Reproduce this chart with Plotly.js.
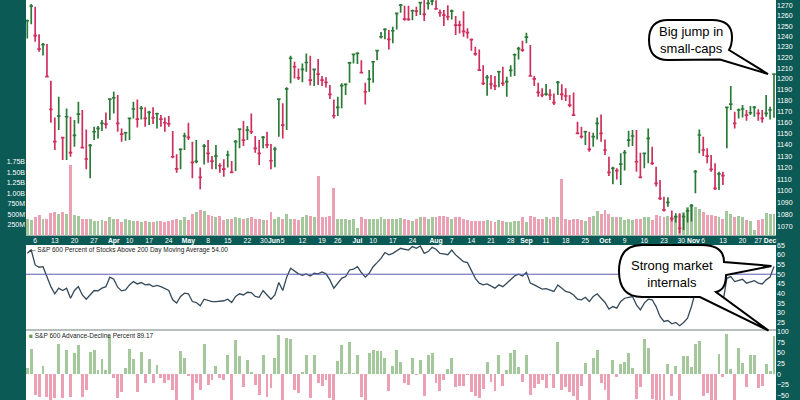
<!DOCTYPE html>
<html><head><meta charset="utf-8">
<script src="https://cdn.plot.ly/plotly-3.0.1.min.js"></script>
<style>html,body{margin:0;padding:0;background:#0c5a55;}#chart{width:800px;height:400px;}</style>
</head><body><div id="chart"></div>
<script>
// ---------------- DATA (daily bars, 2 Mar - 1 Dec) ----------------
const priorClose = 1250;
const high = [
1256.6,1271.6,1269.0,1242.3,1233.8,1232.9,1198.3,1164.6,1183.5,1147.3,
1172.7,1165.2,1162.2,1178.9,1171.3,1153.8,1140.8,1156.2,1156.8,1162.2,
1169.1,1181.9,1188.0,1185.0,1154.7,1151.7,1164.6,1178.9,1181.0,1174.9,
1173.7,1170.7,1173.7,1168.8,1166.7,1164.6,1165.8,1152.3,1131.7,1137.0,
1150.8,1159.8,1142.9,1144.3,1120.1,1140.8,1144.3,1130.2,1139.9,1123.8,
1127.3,1134.9,1125.8,1144.3,1154.7,1161.3,1156.8,1168.2,1147.9,1144.3,
1147.9,1151.7,1140.8,1138.4,1181.9,1177.4,1192.1,1221.6,1216.0,1209.7,
1214.4,1223.9,1221.6,1209.7,1218.7,1202.6,1201.4,1194.3,1181.0,1183.5,
1195.8,1195.8,1216.0,1223.9,1224.9,1217.5,1196.4,1208.2,1216.6,1227.1,
1244.5,1247.9,1246.3,1249.5,1263.4,1271.6,1270.0,1270.0,1266.4,1269.0,
1274.0,1275.6,1276.0,1278.0,1275.5,1266.4,1265.7,1270.6,1266.4,1259.9,
1255.3,1264.7,1247.9,1238.2,1230.3,1227.7,1212.8,1203.5,1203.5,1202.6,
1207.6,1211.3,1202.0,1212.8,1223.9,1230.3,1236.0,1243.7,1231.8,1202.6,
1196.4,1191.2,1195.2,1190.3,1186.5,1198.0,1194.9,1191.2,1185.0,1187.4,
1160.7,1156.2,1152.6,1151.7,1150.8,1164.6,1167.3,1144.9,1129.6,1120.9,
1119.5,1132.6,1135.5,1152.6,1153.3,1153.3,1133.2,1133.2,1154.7,1138.4,
1120.9,1109.4,1095.1,1094.6,1083.4,1081.2,1081.2,1081.2,1085.3,1088.9,
1118.0,1153.8,1147.3,1137.0,1131.1,1123.8,1116.6,1116.6,1174.3,1193.4,
1169.7,1172.7,1175.8,1171.3,1174.9,1174.9,1171.9,1171.3,1185.0,1174.3,
1205.1];
const low = [
1238.2,1252.0,1235.1,1225.5,1222.0,1201.4,1159.8,1135.5,1153.3,1126.7,
1126.7,1129.6,1138.4,1159.2,1137.0,1118.6,1110.8,1144.3,1145.8,1152.3,
1154.7,1162.2,1168.2,1151.7,1142.9,1143.8,1144.3,1163.7,1155.6,1162.8,
1156.2,1157.7,1158.6,1154.7,1156.2,1151.7,1156.2,1128.2,1115.7,1118.6,
1135.5,1144.3,1110.8,1123.8,1101.4,1122.9,1124.4,1118.6,1118.6,1115.7,
1112.2,1120.1,1115.7,1117.2,1137.0,1139.0,1144.3,1149.6,1133.2,1122.3,
1137.0,1137.0,1118.6,1120.4,1147.3,1145.8,1153.3,1195.8,1200.3,1198.8,
1196.7,1206.6,1193.7,1193.4,1194.3,1193.4,1191.9,1181.3,1163.7,1165.8,
1172.8,1185.0,1196.4,1214.4,1213.8,1205.1,1176.4,1188.0,1196.4,1217.5,
1238.2,1237.3,1227.7,1233.5,1246.9,1263.1,1255.3,1255.3,1255.9,1259.9,
1260.8,1255.0,1266.4,1270.5,1266.0,1259.2,1250.1,1255.9,1256.6,1241.5,
1243.0,1239.8,1238.2,1226.5,1221.6,1207.3,1194.3,1184.4,1190.3,1189.7,
1192.1,1193.4,1183.5,1202.0,1202.6,1218.2,1225.5,1233.5,1202.0,1193.4,
1183.5,1182.9,1184.4,1180.4,1175.8,1185.0,1180.4,1179.5,1173.7,1166.7,
1149.6,1145.8,1139.9,1134.0,1138.4,1144.9,1142.9,1131.1,1112.9,1105.7,
1109.9,1105.1,1117.5,1138.4,1139.0,1116.6,1110.8,1119.5,1123.8,1122.3,
1103.7,1092.3,1082.5,1086.7,1074.3,1073.5,1064.5,1067.2,1073.5,1074.3,
1098.0,1132.6,1130.2,1123.8,1116.6,1100.8,1100.8,1105.1,1137.0,1171.3,
1154.7,1163.7,1164.6,1161.6,1166.7,1165.2,1161.6,1159.8,1165.2,1162.8,
1164.3];
const close = [
1255.3,1269.7,1240.8,1228.0,1232.2,1202.0,1171.9,1142.9,1165.8,1146.5,
1165.2,1133.2,1148.5,1167.6,1137.6,1127.6,1139.6,1151.7,1154.7,1159.2,
1158.6,1181.3,1182.5,1159.2,1149.6,1150.8,1163.7,1172.2,1163.1,1172.8,
1163.7,1169.1,1164.3,1167.9,1163.1,1159.8,1158.9,1129.6,1119.0,1136.1,
1147.9,1146.7,1124.7,1125.5,1111.7,1139.0,1132.6,1125.8,1130.2,1121.7,
1118.8,1131.1,1116.0,1142.9,1154.1,1144.3,1153.2,1151.7,1137.0,1132.6,
1146.7,1140.0,1126.1,1136.4,1181.3,1157.7,1190.6,1219.3,1211.3,1201.0,
1208.8,1215.3,1198.8,1208.8,1204.4,1198.8,1196.7,1185.6,1166.1,1173.7,
1193.7,1194.9,1215.0,1222.9,1223.9,1205.7,1188.0,1199.8,1216.0,1226.5,
1239.8,1246.9,1237.3,1245.6,1262.5,1270.6,1256.9,1256.6,1265.1,1264.7,
1273.0,1261.5,1272.3,1274.5,1267.0,1263.1,1260.8,1259.2,1264.7,1251.1,
1251.0,1245.0,1243.7,1237.0,1223.5,1208.2,1195.8,1201.4,1195.2,1193.4,
1206.6,1195.8,1197.4,1207.9,1222.6,1228.4,1227.1,1239.5,1202.6,1200.0,
1187.4,1185.0,1185.9,1185.0,1178.0,1196.7,1185.6,1184.1,1175.8,1166.7,
1150.2,1147.3,1151.7,1136.1,1147.3,1159.2,1150.2,1135.5,1116.0,1119.5,
1117.5,1123.2,1133.2,1144.3,1147.9,1125.2,1111.7,1132.6,1145.8,1123.8,
1106.5,1093.7,1083.9,1090.3,1076.7,1078.3,1068.6,1078.3,1083.1,1087.3,
1116.6,1148.8,1135.5,1130.2,1118.6,1102.2,1114.6,1113.1,1173.7,1176.7,
1159.2,1171.3,1172.2,1166.7,1168.8,1173.7,1168.2,1163.7,1168.2,1171.3,
1204.4];
// volume in millions of shares
const volumeM = [
400,370,440,480,400,400,540,560,510,560,
510,1670,480,460,400,390,390,340,340,370,
350,430,400,390,310,400,370,350,340,330,
350,330,330,340,340,330,340,370,390,370,
430,370,510,560,600,580,480,460,440,460,
370,390,390,430,410,390,410,430,400,390,
370,370,560,400,440,390,520,400,390,370,
440,500,460,440,1410,440,440,460,1140,400,
400,390,380,390,190,430,400,400,390,390,
440,390,390,400,400,420,390,370,350,400,
440,430,400,430,430,460,470,440,400,440,
440,400,370,350,350,350,350,370,350,330,
370,350,330,330,350,350,440,330,460,430,
400,400,430,400,430,440,1350,390,370,400,
390,370,350,440,460,580,520,600,520,440,
430,430,370,400,370,390,390,430,440,380,
480,460,440,460,440,430,520,560,670,750,
670,620,550,480,480,460,440,400,580,520,
430,460,430,380,350,140,380,400,540,520,
520];
// S&P 600 Percent of Stocks Above 200 Day Moving Average
const pctAbove200 = [
60.8,62.5,54.8,53.6,53.9,48.8,43.6,39.9,42.8,41.6,
42.8,37.6,41.6,43.6,39.3,37.1,39.3,41.6,41.4,42.8,
43.6,48.5,47.4,43.3,41.4,41.9,44.5,46.2,45.0,45.7,
44.5,44.8,43.6,44.2,43.6,42.8,41.6,36.8,35.1,38.5,
40.2,39.9,35.9,35.4,33.7,37.1,36.3,35.9,35.9,36.1,
36.3,37.1,35.4,38.5,39.9,39.3,40.7,40.5,38.5,38.1,
41.6,39.3,37.1,39.3,45.7,41.6,48.5,53.1,51.4,50.2,
49.5,50.2,49.1,50.5,50.2,51.2,50.2,47.1,42.8,45.4,
47.9,48.8,52.2,52.6,53.9,50.9,48.5,50.5,53.9,56.0,
58.2,61.2,60.0,60.8,62.0,63.4,62.9,62.5,64.3,63.4,
64.6,60.8,61.7,63.9,62.9,60.8,60.5,60.1,62.5,60.0,
58.2,56.5,56.0,52.2,47.9,45.4,44.5,45.0,44.0,42.8,
44.5,43.6,45.4,47.1,49.1,50.0,49.1,50.9,45.4,44.5,
43.6,42.3,42.6,41.9,41.1,44.5,42.8,41.1,40.6,39.3,
37.1,36.8,38.1,35.9,38.5,39.9,37.6,35.4,32.0,33.3,
32.5,35.9,37.6,38.1,38.5,34.2,31.6,35.1,37.1,36.8,
33.3,28.2,25.6,26.1,24.4,25.1,23.4,25.1,27.3,33.3,
41.1,41.9,40.2,38.8,37.6,35.4,36.3,35.4,47.9,48.8,
46.2,46.7,47.4,45.4,46.2,46.7,45.4,45.0,47.1,48.5,
54.0];
// S&P 600 Advance-Decline Percent
const adPercent = [
15,60,-50,-54,19,-54,-65,-57,70,-57,
57,-54,50,68,-54,-38,52,57,9,35,
9,90,-10,-57,-42,15,59,35,-42,52,
-22,35,-22,21,-10,-22,-14,-38,-65,55,
39,-5,-65,-22,-38,72,-26,-14,18,-10,
-14,44,-65,80,43,-30,33,4,-26,-50,
45,-54,-34,37,92,-62,86,82,-38,-46,
5,46,-57,46,-22,-28,-14,-57,-62,31,
69,2,77,2,45,-54,-62,49,56,55,
55,37,-39,20,56,28,-22,-26,37,-3,
33,-52,45,50,-20,-39,-13,11,37,-30,
-28,-28,-2,-42,-53,-57,-36,28,-18,-39,
46,-28,9,50,58,17,-18,46,-50,-34,
-24,-14,-34,-3,-34,75,-38,-30,-42,-52,
-62,-28,25,-62,39,58,-22,-38,-62,33,
-6,23,29,49,15,-60,-30,82,61,-60,
-62,-62,-62,24,-52,20,-62,43,43,16,
72,78,-53,-44,-62,-62,47,-8,96,11,
-62,61,25,-30,45,45,-34,-28,24,7,
89.17];
// date axis labels (trading-day index -> label)
const dateTickIdx  = [2,7,12,17,22,26,31,36,41,46,51,56,60.2,62.8,65,70,75,79,84,88,93,98,104,108,113,118,123,127,132,137,142,147,152,157,162,166.4,169.5,172,177,182,186,189];
const dateTickText = ["6","13","20","27","Apr","10","17","24","May","8","15","22","30","Jun","5","12","19","26","Jul","10","17","24","Aug","7","14","21","28","Sep","11","18","25","Oct","9","16","23","30","Nov","6","13","20","27","Dec"];
const monthNames = ["Apr","May","Jun","Jul","Aug","Sep","Oct","Nov","Dec"];
const priceTicks = [1070,1080,1090,1100,1110,1120,1130,1140,1150,1160,1170,1180,1190,1200,1210,1220,1230,1240,1250,1260,1270];
const volTickVals = [250,500,750,1000,1250,1500,1750];
const volTickText = ["250M","500M","750M","1.00B","1.25B","1.50B","1.75B"];
const pctTicks = [25,30,35,40,45,50,55,60,65];
const adTicks = [-50,-25,0,25,50,75,100];
const pctRef = 50;
const pctTitle = "S&amp;P 600 Percent of Stocks Above 200 Day Moving Average 54.00";
const adTitle = "S&amp;P 600 Advance-Decline Percent 89.17";
const note1 = "Big jump in<br>small-caps";
const note2 = "Strong market<br>internals";

// ---------------- STYLE ----------------
const TEAL = '#0c5a55', GREEN = '#2b7a38', PINK = '#cf2f5c';
const VGREEN = '#a4c79b', VPINK = '#eba1b3';
const W = 800, H = 400, ML = 26, MR = 24, PW = W - ML - MR;
const tickFont = {family: 'Liberation Sans, Arial, sans-serif', size: 7, color: '#ffffff'};
const dateFont = {family: 'Liberation Sans, Arial, sans-serif', size: 6.8, color: '#ffffff'};

const idx = close.map((_, i) => i);
const up = close.map((c, i) => c >= (i ? close[i - 1] : priorClose));
const pick = (arr, flag) => arr.filter((_, i) => up[i] === flag);

function ohlcTrace(flag, color) {
  const cl = pick(close, flag);
  return {
    type: 'ohlc', xaxis: 'x', yaxis: 'y2',
    x: pick(idx, flag), open: cl, high: pick(high, flag), low: pick(low, flag), close: cl,
    increasing: {line: {color: color, width: 1.7}},
    decreasing: {line: {color: color, width: 1.7}},
    tickwidth: 0.45, hoverinfo: 'skip', showlegend: false
  };
}

const traces = [
  {type: 'bar', xaxis: 'x', yaxis: 'y', x: idx, y: volumeM, width: 0.74,
   marker: {color: up.map(u => u ? VGREEN : VPINK), line: {width: 0}}, hoverinfo: 'skip'},
  ohlcTrace(true, GREEN),
  ohlcTrace(false, PINK),
  {type: 'scatter', mode: 'lines', xaxis: 'x', yaxis: 'y3', x: idx, y: pctAbove200,
   line: {color: '#34495a', width: 1.3}, hoverinfo: 'skip'},
  {type: 'bar', xaxis: 'x', yaxis: 'y4', x: idx, y: adPercent, width: 0.74,
   marker: {color: adPercent.map(v => v >= 0 ? VGREEN : VPINK), line: {width: 0}}, hoverinfo: 'skip'}
];

// pixel -> paper helpers for annotations / callouts
const px = x => (x - ML) / PW;
const py = y => 1 - y / H;
function path(cmds) {
  return cmds.map(c => {
    if (c[0] === 'Z') return 'Z';
    let s = c[0];
    for (let k = 1; k < c.length; k += 2) s += ' ' + px(c[k]).toFixed(5) + ',' + py(c[k + 1]).toFixed(5);
    return s;
  }).join(' ');
}
const bubble1 = path([
  ['M', 668, 20], ['L', 712, 20], ['Q', 732, 20, 732, 37], ['Q', 732, 45, 729, 50],
  ['L', 768, 74], ['L', 720, 59.5], ['L', 668, 60], ['Q', 649, 60, 649, 40],
  ['Q', 649, 20, 668, 20], ['Z']]);
const bubble2 = path([
  ['M', 642, 245], ['L', 702, 245], ['Q', 724, 245, 724, 262], ['L', 771.5, 266],
  ['L', 726, 275], ['Q', 726, 290, 716, 292], ['L', 768.5, 330.5], ['L', 700, 297],
  ['L', 642, 297], ['Q', 619, 297, 619, 271], ['Q', 619, 245, 642, 245], ['Z']]);

const layout = {
  width: W, height: H, autosize: false,
  margin: {l: ML, r: MR, t: 0, b: 0, pad: 0},
  paper_bgcolor: TEAL, plot_bgcolor: '#ffffff',
  showlegend: false, hovermode: false, dragmode: false,
  bargap: 0,
  xaxis: {domain: [0, 1], anchor: 'y', range: [-0.33, 190.51],
    tickmode: 'array', tickvals: dateTickIdx,
    ticktext: dateTickText.map(t => monthNames.includes(t) ? '<b>' + t + '</b>' : t),
    tickfont: dateFont, tickangle: 0, ticks: '', showgrid: false, zeroline: false, showline: false,
    rangeslider: {visible: false}, fixedrange: true},
  yaxis: {domain: [0.41125, 1], anchor: 'x', side: 'left', range: [0, 5607],
    tickmode: 'array', tickvals: volTickVals, ticktext: volTickText, tickfont: tickFont,
    ticks: '', showgrid: false, zeroline: false, showline: false, fixedrange: true},
  yaxis2: {overlaying: 'y', anchor: 'x', side: 'right', type: 'log', range: [3.02638, 3.10574],
    tickmode: 'array', tickvals: priceTicks, ticktext: priceTicks.map(String), tickfont: tickFont,
    ticks: '', showgrid: false, zeroline: false, showline: false, fixedrange: true},
  yaxis3: {domain: [0.1755, 0.3875], anchor: 'x', side: 'right', range: [21.3, 65.1],
    tickmode: 'array', tickvals: pctTicks, tickfont: tickFont,
    ticks: '', showgrid: false, zeroline: false, showline: false, fixedrange: true},
  yaxis4: {domain: [0, 0.1745], anchor: 'x', side: 'right', range: [-61.4, 103.8],
    tickmode: 'array', tickvals: adTicks, tickfont: tickFont,
    ticks: '', showgrid: false, zeroline: false, showline: false, fixedrange: true},
  shapes: [
    {type: 'line', xref: 'paper', x0: 0, x1: 1, yref: 'y3', y0: pctRef, y1: pctRef,
     line: {color: '#5b5fae', width: 1}},
    {type: 'line', xref: 'paper', x0: 0, x1: 1, yref: 'paper', y0: 0.175, y1: 0.175,
     line: {color: '#a0a0a0', width: 1.2}},
    {type: 'path', xref: 'paper', yref: 'paper', path: bubble1,
     fillcolor: '#ffffff', line: {color: '#000000', width: 2}},
    {type: 'path', xref: 'paper', yref: 'paper', path: bubble2,
     fillcolor: '#ffffff', line: {color: '#000000', width: 2}}
  ],
  annotations: [
    {xref: 'paper', yref: 'paper', x: px(27), y: py(244.3), xanchor: 'left', yanchor: 'top',
     text: '<span style="color:#34495a">—</span> ' + pctTitle, showarrow: false,
     font: {family: 'Liberation Sans, Arial, sans-serif', size: 6.5, color: '#222222'}},
    {xref: 'paper', yref: 'paper', x: px(27), y: py(330.3), xanchor: 'left', yanchor: 'top',
     text: '<span style="color:#5f9a5a">■</span> ' + adTitle, showarrow: false,
     font: {family: 'Liberation Sans, Arial, sans-serif', size: 6.5, color: '#222222'}},
    {xref: 'paper', yref: 'paper', x: px(690.5), y: py(40), xanchor: 'center', yanchor: 'middle',
     text: note1, showarrow: false,
     font: {family: 'Liberation Sans, Arial, sans-serif', size: 13, color: '#000000'}},
    {xref: 'paper', yref: 'paper', x: px(671.5), y: py(273.5), xanchor: 'center', yanchor: 'middle',
     text: note2, showarrow: false,
     font: {family: 'Liberation Sans, Arial, sans-serif', size: 13, color: '#000000'}}
  ]
};

Plotly.newPlot('chart', traces, layout, {staticPlot: true, displayModeBar: false});
</script>
</body></html>
